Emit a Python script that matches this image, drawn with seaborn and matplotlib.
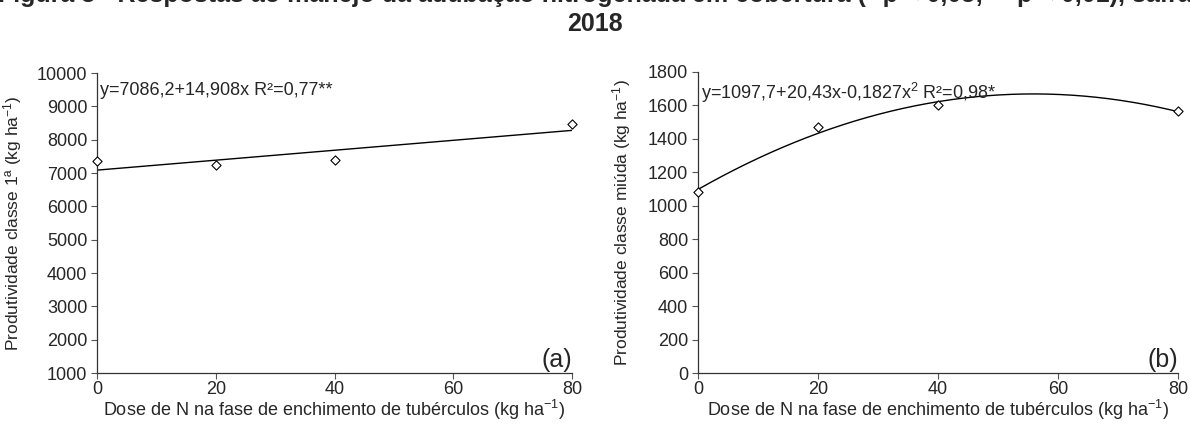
import numpy as np
import pandas as pd
import matplotlib
matplotlib.use('Agg')
import matplotlib.pyplot as plt
import seaborn as sns

# ------------------------------------------------------------
# Data
# ------------------------------------------------------------
doses = [0, 20, 40, 80]
classe1 = [7350, 7230, 7380, 8470]
miuda = [1085, 1470, 1600, 1565]

# regression coefficients printed on the chart
lin_coef = [7086.2, 14.908]
quad_coef = [1097.7, 20.43, -0.1827]

eq_a = 'y=7086,2+14,908x R²=0,77**'
eq_b = 'y=1097,7+20,43x-0,1827x$^{2}$ R²=0,98*'
title_line1 = 'Figura 3 - Respostas ao manejo da adubação nitrogenada em cobertura (* p < 0,05; ** p < 0,01), safra'
title_line2 = '2018'
xlabel = 'Dose de N na fase de enchimento de tubérculos (kg ha$^{-1}$)'
ylabel_a = 'Produtividade classe 1ª (kg ha$^{-1}$)'
ylabel_b = 'Produtividade classe miúda (kg ha$^{-1}$)'

sns.set_theme(style='ticks')
plt.rcParams['font.family'] = ['Liberation Sans', 'DejaVu Sans']
plt.rcParams['mathtext.default'] = 'regular'

pts = pd.DataFrame({'dose': doses, 'classe1': classe1, 'miuda': miuda})
xs = np.linspace(0, 80, 200)
fit = pd.DataFrame({
    'dose': xs,
    'classe1': lin_coef[0] + lin_coef[1] * xs,
    'miuda': quad_coef[0] + quad_coef[1] * xs + quad_coef[2] * xs ** 2,
})

W, H = 1190, 425
fig = plt.figure(figsize=(W / 100, H / 100), dpi=100)
ax1 = fig.add_axes([97 / W, 1 - 373 / H, 475 / W, 300 / H])
ax2 = fig.add_axes([698 / W, 1 - 373 / H, 480 / W, 301 / H])

panels = [
    (ax1, 'classe1', ylabel_a, eq_a, '(a)', (1000, 10000), np.arange(1000, 10001, 1000), 9),
    (ax2, 'miuda', ylabel_b, eq_b, '(b)', (0, 1800), np.arange(0, 1801, 200), 11),
]

for ax, col, ylab, eq, tag, ylim, yticks, lpad in panels:
    sns.lineplot(data=fit, x='dose', y=col, ax=ax, color='black', linewidth=1.0)
    sns.scatterplot(data=pts, x='dose', y=col, ax=ax, marker='D', s=22,
                    facecolor='white', edgecolor='black', linewidth=0.8,
                    zorder=3, clip_on=False)
    ax.set_xlim(0, 80)
    ax.set_ylim(*ylim)
    ax.set_xticks([0, 20, 40, 60, 80])
    ax.set_yticks(yticks)
    ax.tick_params(labelsize=13, length=4, width=0.8, color='#555555', pad=3)
    ax.tick_params(axis='x', pad=2)
    ax.set_xlabel(xlabel, fontsize=13, labelpad=0)
    ax.set_ylabel(ylab, fontsize=12.5, labelpad=lpad)
    for s in ['top', 'right']:
        ax.spines[s].set_visible(False)
    for s in ['left', 'bottom']:
        ax.spines[s].set_linewidth(0.9)
        ax.spines[s].set_color('#333333')
    ax.text(0.006, 0.97, eq, transform=ax.transAxes, fontsize=13,
            ha='left', va='top')
    ax.text(1.0, 0.02, tag, transform=ax.transAxes, fontsize=18,
            ha='right', va='baseline')

fig.text(0.5, 1 + 5 / H, title_line1, ha='center', va='center',
         fontsize=18, fontweight='bold')
fig.text(0.5, 1 - 24 / H, title_line2, ha='center', va='center',
         fontsize=18, fontweight='bold')

fig.savefig('out.png', dpi=100)
